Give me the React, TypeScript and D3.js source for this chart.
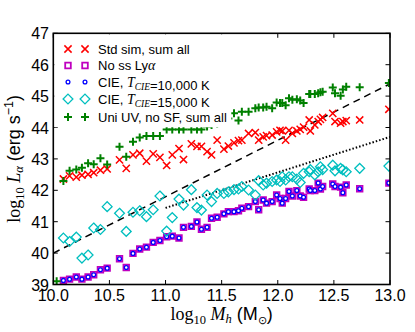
import React from 'react';
import * as d3 from 'd3';

const W = 415;
const H = 332;

// log10 halo masses (same haloes in every run)
const haloMass = [
  10.03, 10.09, 10.145, 10.205, 10.255, 10.31, 10.36, 10.42, 10.48, 10.59,
  10.65, 10.71, 10.77, 10.83, 10.89, 10.95, 11.01, 11.06, 11.12, 11.16,
  11.23, 11.28, 11.32, 11.37, 11.41, 11.46, 11.52, 11.56, 11.61, 11.65,
  11.68, 11.74, 11.8, 11.83, 11.87, 11.9, 11.95, 11.99, 12.02, 12.04,
  12.07, 12.1, 12.13, 12.17, 12.2, 12.23, 12.28, 12.29, 12.33, 12.36,
  12.38, 12.4, 12.49, 12.51, 12.56, 12.58, 12.61, 12.73, 12.99,
];

// log10 L_alpha for each run
const stdSim = [
  null, 42.36, 42.46, 42.42, 42.48, 42.51, 42.56, 42.64, 42.68, 42.97,
  42.7, 43.13, 43.18, 42.93, 43.16, 43.05, 42.79, 43.13, 43.33, 42.98,
  43.48, 43.4, 43.4, 43.23, 43.13, 43.6, 43.31, 43.41, 43.51, 43.58,
  43.6, 43.81, 43.84, 43.6, 43.7, 43.74, 43.76, 43.86, 43.91, 43.89,
  43.6, 43.91, 43.81, 43.89, 43.94, 44.01, 44.24, 43.89, 44.08, 44.19,
  44.26, 44.32, 44.45, 44.19, 44.14, 44.19, 44.22, 44.24, 44.58,
];
const noSsLya = [
  null, 39.13, 39.17, 39.24, 39.17, 39.24, 39.31, 39.47, 39.52, 39.82,
  39.54, 39.99, 40.13, 40.19, 40.34, 40.4, 40.52, 40.54, 40.48, 40.82,
  40.85, 40.99, 40.76, 40.82, 41.11, 41.14, 41.25, 41.32, 41.32, 41.35,
  41.43, 41.48, 41.64, 41.38, 41.69, 41.59, 41.64, 41.85, 41.74, 41.59,
  41.74, 41.96, 41.82, 41.99, 41.82, 41.78, 42.04, 41.99, 41.99, 42.23,
  42.04, 42.12, 42.2, 42.12, 42.1, 41.92, 42.17, 42.05, 42.23,
];
const cie10k = [
  null, 39.13, 39.17, 39.24, 39.17, 39.24, 39.31, 39.47, 39.52, 39.82,
  39.54, 39.99, 40.13, 40.19, 40.34, 40.4, 40.52, 40.54, 40.48, 40.82,
  40.85, 40.99, 40.76, 40.82, 41.11, 41.14, 41.25, 41.32, 41.32, 41.35,
  41.43, 41.48, 41.64, 41.38, 41.69, 41.59, 41.64, 41.85, 41.74, 41.59,
  41.74, 41.96, 41.82, 41.99, 41.82, 41.78, 42.04, 41.99, 41.99, 42.23,
  42.04, 42.12, 42.2, 42.12, 42.1, 41.92, 42.17, 42.05, 42.23,
];
const cie15k = [
  null, 40.48, 40.37, 40.51, 39.84, 39.94, 40.8, 40.75, 41.48, 41.27,
  40.69, 41.3, 41.35, 41.16, 41.38, 41.82, 40.7, 41.13, 41.72, 41.53,
  42.02, 41.45, 41.37, 41.85, 41.64, 41.9, 41.9, 41.95, 42.02, 42.04,
  42.12, 42.01, 41.85, 42.31, 42.17, 42.23, 42.28, 42.33, 42.28, 42.43,
  42.33, 42.43, 42.43, 42.36, 42.25, 42.54, 42.59, 42.66, 42.49, 42.59,
  42.75, 42.66, 42.8, 42.62, 42.7, 42.65, 42.59, 42.7, 42.77,
];
const uniUV = [
  39.1, 42.3, 42.62, 42.66, 42.72, 42.86, 42.83, 43.02, 42.82, 43.39,
  43.07, 43.55, 43.68, 43.73, 43.73, 43.73, 43.94, 43.94, 43.94, 43.94,
  43.94, 43.94, 43.94, 44.03, 44.08, 44.13, 44.18, 44.29, 44.45, 44.22,
  44.5, 44.5, 44.61, 44.64, 44.64, 44.66, 44.61, 44.8, 44.78, 44.78,
  44.71, 44.93, 44.88, 44.9, 44.86, 44.78, 45.07, 45.07, 45.07, 45.09,
  45.12, 45.14, 45.27, 45.09, 45.01, 45.21, 45.3, 45.28, 45.42,
];

// reference relations (endpoints)
const dashedFit = [[10.0, 40.0], [13.0, 45.39]];
const dottedFit = [[11.0, 41.44], [13.0, 43.7]];

const xTicks = [10.0, 10.5, 11.0, 11.5, 12.0, 12.5, 13.0];
const yTicks = [39, 40, 41, 42, 43, 44, 45, 46, 47];

const SANS = 'Liberation Sans, Arial, sans-serif';
const SERIF = 'Liberation Serif, Times New Roman, serif';

const x = d3.scaleLinear().domain([10, 13]).range([53.3, 390]);
const y = d3.scaleLinear().domain([39, 47]).range([284.5, 33.3]);

// marker shapes
const crossPath = (s) => `M${-s},${-s}L${s},${s}M${-s},${s}L${s},${-s}`;
const plusPath = (s) => `M${-s},0L${s},0M0,${-s}L0,${s}`;
const squarePath = (s) => `M${-s},${-s}H${s}V${s}H${-s}Z`;
const diamondPath = (s) => `M0,${-s}L${s},0L0,${s}L${-s},0Z`;

const series = [
  { key: 'std', values: stdSim, d: crossPath(3.6), stroke: '#ff0000', sw: 1.5, circle: false },
  { key: 'noss', values: noSsLya, d: squarePath(2.8), stroke: '#bf00bf', sw: 1.8, circle: false },
  { key: 'cie10', values: cie10k, d: null, stroke: '#0000ff', sw: 1.3, circle: true },
  { key: 'cie15', values: cie15k, d: diamondPath(4.9), stroke: '#00bfbf', sw: 1.3, circle: false },
  { key: 'uni', values: uniUV, d: plusPath(4), stroke: '#008000', sw: 2, circle: false },
];

const Marker = ({ s, cx, cy }) =>
  s.circle ? (
    <circle cx={cx} cy={cy} r={1.9} fill="white" stroke={s.stroke} strokeWidth={s.sw} />
  ) : (
    <path d={s.d} transform={`translate(${cx},${cy})`} fill="none" stroke={s.stroke} strokeWidth={s.sw} />
  );

const legendRows = [49, 65.5, 82, 99, 117];

const TCie = () => (
  <>
    <tspan fontFamily={SERIF} fontStyle="italic" fontSize={14}>T</tspan>
    <tspan fontFamily={SERIF} fontStyle="italic" fontSize={9.5} dy={3}>CIE</tspan>
    <tspan dy={-3}></tspan>
  </>
);

const legendLabels = [
  <>Std sim, sum all</>,
  <>No ss Ly<tspan fontFamily={SERIF} fontStyle="italic" fontSize={14}>α</tspan></>,
  <>CIE, <TCie />=10,000 K</>,
  <>CIE, <TCie />=15,000 K</>,
  <>Uni UV, no SF, sum all</>,
];

export default function App() {
  const line = d3.line().x((d) => x(d[0])).y((d) => y(d[1]));
  const [x0, x1] = x.range();
  const [yb, yt] = y.range();
  const tick = 4.5;

  return (
    <svg width={W} height={H} style={{ position: 'absolute', left: 0, top: 0, background: 'white' }}>
      <defs>
        <clipPath id="plot">
          <rect x={x0} y={yt} width={x1 - x0} height={yb - yt} />
        </clipPath>
      </defs>

      <g clipPath="url(#plot)">
        <path d={line(dashedFit)} fill="none" stroke="black" strokeWidth={1.5} strokeDasharray="7,5" />
        <path d={line(dottedFit)} fill="none" stroke="black" strokeWidth={2} strokeDasharray="1.5,2" />
        {series.map((s) => (
          <g key={s.key}>
            {haloMass.map((m, i) =>
              s.values[i] == null ? null : <Marker key={i} s={s} cx={x(m)} cy={y(s.values[i])} />
            )}
          </g>
        ))}
      </g>

      {/* ticks on all four sides, pointing in */}
      {xTicks.map((t) => (
        <g key={'xt' + t}>
          <line x1={x(t)} x2={x(t)} y1={yb} y2={yb - tick} stroke="black" />
          <line x1={x(t)} x2={x(t)} y1={yt} y2={yt + tick} stroke="black" />
          <text x={x(t)} y={301} textAnchor="middle" fontFamily={SANS} fontSize={16}>
            {d3.format('.1f')(t)}
          </text>
        </g>
      ))}
      {yTicks.map((t) => (
        <g key={'yt' + t}>
          <line x1={x0} x2={x0 + tick} y1={y(t)} y2={y(t)} stroke="black" />
          <line x1={x1} x2={x1 - tick} y1={y(t)} y2={y(t)} stroke="black" />
          <text x={49} y={y(t) + 6} textAnchor="end" fontFamily={SANS} fontSize={16}>
            {t}
          </text>
        </g>
      ))}

      {/* legend (white box, no frame) */}
      <rect x={x0 + 1} y={yt + 1} width={177} height={93} fill="white" />
      {series.map((s, i) => (
        <g key={'lg' + s.key}>
          <Marker s={s} cx={68} cy={legendRows[i]} />
          <Marker s={s} cx={85} cy={legendRows[i]} />
          <text x={98} y={legendRows[i] + 4.7} fontFamily={SANS} fontSize={13}>
            {legendLabels[i]}
          </text>
        </g>
      ))}

      <rect x={x0} y={yt} width={x1 - x0} height={yb - yt} fill="none" stroke="black" strokeWidth={1.6} />

      {/* axis labels */}
      <text x={(x0 + x1) / 2} y={319.5} textAnchor="middle" fontSize={18} fontFamily={SANS}>
        <tspan fontFamily={SERIF}>log</tspan>
        <tspan fontFamily={SERIF} fontSize={12.5} dy={4}>10</tspan>
        <tspan fontFamily={SERIF} fontStyle="italic" dy={-4}> M</tspan>
        <tspan fontFamily={SERIF} fontStyle="italic" fontSize={12.5} dy={3}>h</tspan>
        <tspan dy={-3}> (M</tspan>
        <tspan fontSize={11} dy={4}>⊙</tspan>
        <tspan dy={-4}>)</tspan>
      </text>
      <text
        transform={`translate(20,${(yb + yt) / 2}) rotate(-90)`}
        textAnchor="middle"
        fontSize={18}
        fontFamily={SANS}
      >
        <tspan fontFamily={SERIF}>log</tspan>
        <tspan fontFamily={SERIF} fontSize={12.5} dy={4}>10</tspan>
        <tspan fontFamily={SERIF} fontStyle="italic" dy={-4}> L</tspan>
        <tspan fontFamily={SERIF} fontStyle="italic" fontSize={12.5} dy={3}>α</tspan>
        <tspan dy={-3}> (erg s</tspan>
        <tspan fontSize={12.5} dy={-7}>−1</tspan>
        <tspan dy={7}>)</tspan>
      </text>
    </svg>
  );
}
